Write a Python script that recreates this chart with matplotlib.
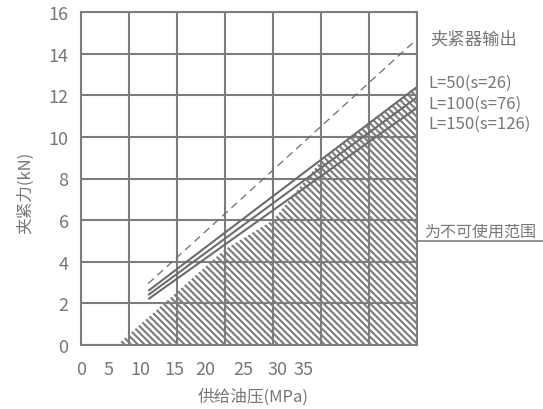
import matplotlib
matplotlib.use("Agg")
import matplotlib.pyplot as plt
from matplotlib.ticker import FixedLocator

plt.rcParams['font.family'] = ['Noto Sans CJK SC', 'DejaVu Sans']
plt.rcParams['hatch.linewidth'] = 1.5
plt.rcParams['hatch.color'] = '#7a7a7a'

# ---- data ----
x_tick_labels = ['0', '5', '10', '15', '20', '25', '30', '35']
x_tick_label_pos = [0.0, 2.85, 6.2, 9.7, 13.0, 16.9, 20.45, 23.15]
x_grid = [0, 5, 10, 15, 20, 25, 30, 35]
y_ticks = [0, 2, 4, 6, 8, 10, 12, 14, 16]

pressure = [7, 35]
clamp_output = [2.95, 14.7]
force_L50 = [2.6, 12.4]
force_L100 = [2.4, 11.9]
force_L150 = [2.2, 11.4]

unusable_x = [3.75, 15, 20, 25, 35]
unusable_y = [0, 4.6, 6.0, 8.85, 12.4]

gray = '#777777'
line_gray = '#6c6c6c'

fig = plt.figure(figsize=(5.43, 4.10), dpi=100)
ax = fig.add_axes([81/543, 1-346/410, (417-81)/543, (346-13)/410])
ax.set_xlim(0, 35)
ax.set_ylim(0, 16)

# hatched unusable region
poly_x = unusable_x + [35]
poly_y = unusable_y + [0]
ax.fill(poly_x, poly_y, facecolor='none', edgecolor='#7a7a7a', hatch='\\\\\\\\\\', linewidth=0, zorder=1)

# grid
for xv in x_grid:
    ax.axvline(xv, color='#7d7d7d', lw=1.5, zorder=2)
for yv in y_ticks:
    ax.axhline(yv, color='#7d7d7d', lw=1.5, zorder=2)

# lines
ax.plot(pressure, clamp_output, color=line_gray, lw=0.9, ls=(0, (6, 4)), zorder=3)
for f in (force_L50, force_L100, force_L150):
    ax.plot(pressure, f, color=line_gray, lw=1.5, zorder=3, solid_capstyle='butt')

for s in ax.spines.values():
    s.set_color('#7d7d7d')
    s.set_linewidth(1.5)

ax.set_yticks(y_ticks)
ax.set_yticklabels([str(v) for v in y_ticks])
ax.xaxis.set_major_locator(FixedLocator(x_tick_label_pos))
ax.set_xticklabels(x_tick_labels)
ax.tick_params(axis='both', length=0, colors=gray, labelsize=13)
ax.tick_params(axis='y', pad=9)
ax.tick_params(axis='x', pad=11)

fig.text(253/543, 1-397/410, '供给油压(MPa)', ha='center', va='center', color=gray, fontsize=12)
fig.text(25/543, 1-193/410, '夹紧力(kN)', ha='center', va='center', rotation=90, color=gray, fontsize=12)

fig.text(430/543, 1-40/410, '夹紧器输出', ha='left', va='center', color=gray, fontsize=12.5)
fig.text(428/543, 1-83/410, 'L=50(s=26)', ha='left', va='center', color=gray, fontsize=12)
fig.text(428/543, 1-104/410, 'L=100(s=76)', ha='left', va='center', color=gray, fontsize=12)
fig.text(428/543, 1-124/410, 'L=150(s=126)', ha='left', va='center', color=gray, fontsize=12)

fig.text(424/543, 1-232/410, '为不可使用范围', ha='left', va='center', color=gray, fontsize=11.5)
fig.add_artist(plt.Line2D([417/543, 1.0], [1-242/410, 1-242/410], color='#7d7d7d', lw=1.2))

fig.savefig('out.png', dpi=100)
